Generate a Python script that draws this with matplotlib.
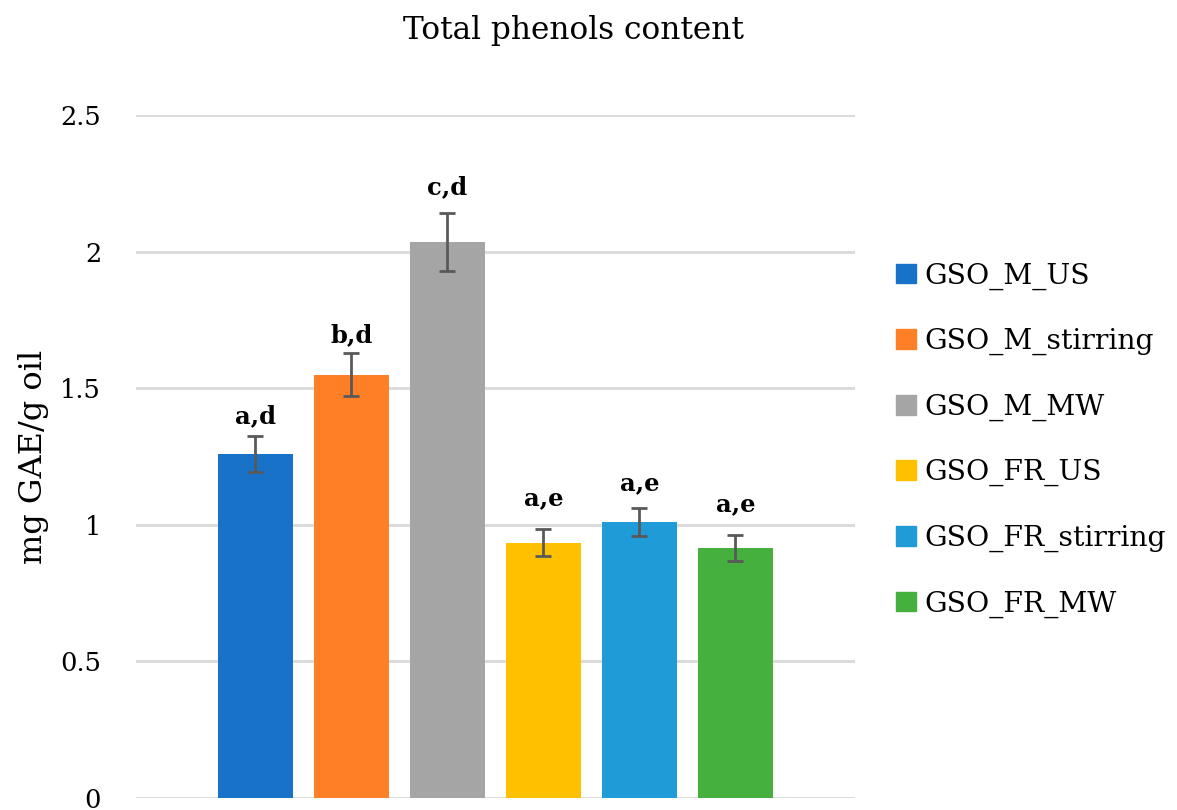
import matplotlib
matplotlib.use("Agg")
import matplotlib.pyplot as plt

categories = ["GSO_M_US", "GSO_M_stirring", "GSO_M_MW", "GSO_FR_US", "GSO_FR_stirring", "GSO_FR_MW"]
values = [1.26, 1.55, 2.035, 0.935, 1.01, 0.915]
errors = [0.065, 0.08, 0.105, 0.05, 0.052, 0.046]
letters = ["a,d", "b,d", "c,d", "a,e", "a,e", "a,e"]
yticks = [0, 0.5, 1, 1.5, 2, 2.5]
ytick_labels = ["0", "0.5", "1", "1.5", "2", "2.5"]

colors = ["#1872C8", "#FF7F27", "#A5A5A5", "#FFC000", "#1F9CD8", "#46B03F"]
label_gap = [0.047, 0.04, 0.069, 0.087, 0.065, 0.088]

plt.rcParams['font.family'] = ['DejaVu Serif']

fig = plt.figure(figsize=(11.77, 8.10), dpi=100)
ax = fig.add_axes([0.1155, 0.0148, 0.6109, 0.8432])

x = list(range(len(categories)))
ax.bar(x, values, width=0.78, color=colors, zorder=2)
ax.errorbar(x, values, yerr=errors, fmt='none', ecolor='#595959', elinewidth=2,
            capsize=6, capthick=2, zorder=3)

for xi, v, e, lab, g in zip(x, values, errors, letters, label_gap):
    ax.text(xi, v + e + g, lab, ha='center', va='baseline', fontsize=17.5,
            fontweight='bold', color='black', zorder=4)

ax.set_ylim(0, 2.5)
ax.set_xlim(-1.245, 6.245)
ax.set_yticks(yticks)
ax.set_yticklabels(ytick_labels, fontsize=18.5)
ax.set_xticks([])
ax.tick_params(axis='y', length=0, pad=25)
ax.yaxis.grid(True, color='#D9D9D9', linewidth=2, zorder=0)
ax.set_axisbelow(True)
for s in ax.spines.values():
    s.set_visible(False)
ax.set_ylabel("mg GAE/g oil", fontsize=23, labelpad=8)

fig.text(0.487, 0.962, "Total phenols content", ha='center', va='center', fontsize=22.5)

handles = [plt.Rectangle((0, 0), 1, 1, color=c) for c in colors]
fig.legend(handles, categories, loc='upper left', bbox_to_anchor=(0.752, 0.69),
           frameon=False, fontsize=20.3, handlelength=0.7, handleheight=0.7,
           handletextpad=0.3, labelspacing=1.36, borderaxespad=0)

fig.savefig("out.png", dpi=100)
